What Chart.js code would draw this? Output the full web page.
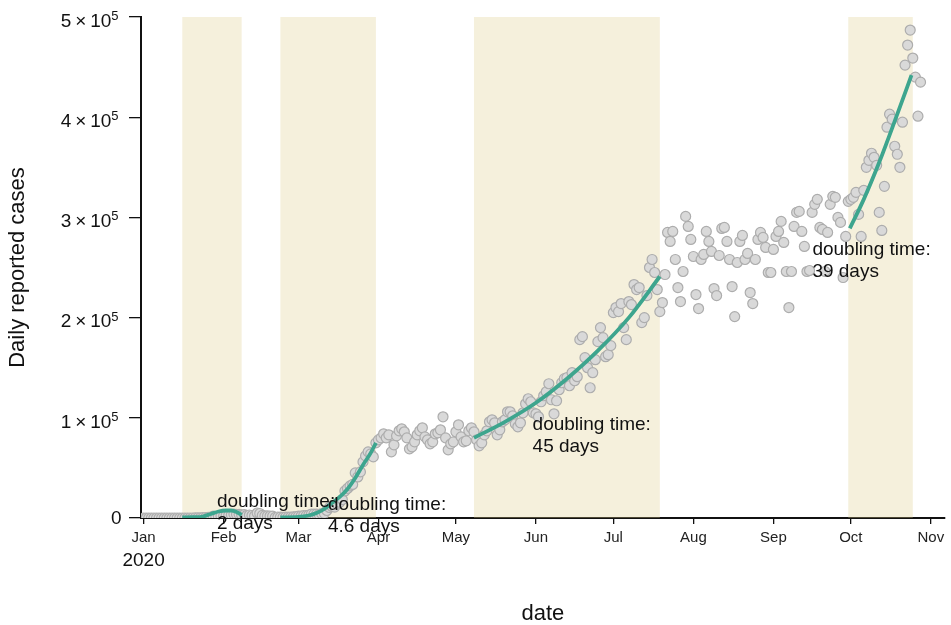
<!DOCTYPE html>
<html>
<head>
<meta charset="utf-8">
<script src="https://cdn.jsdelivr.net/npm/chart.js@4.4.1/dist/chart.umd.min.js"></script>
<style>
  html, body { margin: 0; padding: 0; background: #fff; }
  #wrap { width: 951px; height: 625px; }
</style>
</head>
<body>
<div id="wrap"><canvas id="casesChart" width="951" height="625"></canvas></div>
<script>
// daily reported cases in thousands, one value per day of 2020
const janCases = [0,0,0,0,0,0,0,0,0,0,0,0,0,0,0,0,0,0,0,0,0.15,0.15,0.1,0.3,0.5,0.7,0.8,1.8,1.5,1.7,2.0];
const febCases = [2.1,2.6,2.8,3.2,3.9,3.7,3.7,3.2,3.4,2.7,3.0,2.5,2.1,5.0,4.5,2.6,2.1,2.1,2.0,1.9,0.6,1.0,0.9,0.6,0.9,0.9,1.0,1.2,1.3];
const marCases = [1.9,2.0,2.4,2.3,2.8,3.9,3.9,3.9,3.6,4.3,4.7,7.5,10.5,11.5,10.9,13.9,15.6,18.4,27.0,29.5,32.0,33.5,45.0,41.0,46.0,56.0,62.0,66.0,64.0,61.0,75.0];
const aprCases = [78,80,84,80,83,66,73,82,87,89,86,80,69,71,76,83,87,90,81,78,74,76,84,85,88,101,80,68,74,76];
const mayCases = [86,93,81,76,77,87,90,86,78,72,75,83,87,96,98,95,83,88,96,98,106,106,102,94,91,95,105,114,119,116,105];
const junCases = [104,101,116,122,126,134,118,104,117,128,135,139,140,132,145,137,141,178,181,160,150,130,145,158,176,190,180,161,163,172];
const julCases = [205,210,206,214,190,178,216,213,233,228,230,195,200,222,250,258,245,228,206,215,243,285,276,286,258,230,216,246,301,291,278];
const augCases = [261,223,209,258,263,286,276,266,229,222,262,289,290,276,258,231,201,255,276,282,258,264,225,214,258,278,285,280,270,245,245];
const sepCases = [268,281,286,296,275,246,210,246,291,305,306,286,271,246,247,305,313,318,290,288,246,285,313,321,320,300,295,240,281,316];
const octCases = [318,320,325,303,281,327,350,357,364,360,352,305,287,331,390,403,398,371,363,350,395,452,472,487,459,440,401,435];

const monthNames = ['Jan','Feb','Mar','Apr','May','Jun','Jul','Aug','Sep','Oct','Nov'];
const monthStartDays = [0,31,60,91,121,152,182,213,244,274,305];
const yTickValues = [0,100000,200000,300000,400000,500000];

// shaded fitting windows (day of year)
const shadeStartDays = [15, 53, 128, 273];
const shadeEndDays = [38, 90, 200, 298];

// fitted curves (day of year, thousands)
const fit1Days = [15,19,23,26,29,32,34,36,38];
const fit1Cases = [0.5,0.8,1.5,4,6.5,7.5,7.5,6,3];
const fit2Days = [53,60,64,67,70,73,76,79,82,85,88,90];
const fit2Cases = [0.5,1,2.5,5,9,15,21,29,40,53,65,75];
const fit3Days = [128,140,152,164,176,188,200];
const fit3Cases = [80,96,115,139,167,200,241];
const fit4Days = [273.6,279,285,291,297.5];
const fit4Cases = [289,318,355,396,442];

// annotation anchors (left edge, first line)
const noteDays = [28.4, 71.4, 150.7, 259.1];
const noteCases = [16, 13, 93, 268];
const noteLines = [
    ['doubling time:', '2 days'],
    ['doubling time:', '4.6 days'],
    ['doubling time:', '45 days'],
    ['doubling time:', '39 days']
];

const FONT = '"Liberation Sans", Arial, sans-serif';
const monthlyCases = [janCases, febCases, marCases, aprCases, mayCases, junCases, julCases, augCases, sepCases, octCases];

const casePoints = [];
monthlyCases.forEach((arr, m) => {
    arr.forEach((v, i) => casePoints.push({ x: monthStartDays[m] + i, y: v * 1000 }));
});

function toPoints(days, vals) {
    return days.map((d, i) => ({ x: d, y: vals[i] * 1000 }));
}

const fitSets = [[fit1Days, fit1Cases], [fit2Days, fit2Cases], [fit3Days, fit3Cases], [fit4Days, fit4Cases]];
const fitDatasets = fitSets.map(f => ({
    data: toPoints(f[0], f[1]),
    showLine: true,
    borderColor: '#3da58e',
    borderWidth: 3.8,
    pointRadius: 0,
    cubicInterpolationMode: 'monotone',
    order: 0
}));

// shaded boxes, drawn over the axes but under the marks
const shadePlugin = {
    id: 'shade',
    beforeDatasetsDraw(chart) {
        const { ctx, scales: { x, y } } = chart;
        ctx.save();
        ctx.fillStyle = 'rgba(222, 205, 138, 0.3)';
        const top = y.getPixelForValue(500000);
        const bottom = y.getPixelForValue(0);
        shadeStartDays.forEach((s, i) => {
            const x0 = x.getPixelForValue(s);
            const x1 = x.getPixelForValue(shadeEndDays[i]);
            ctx.fillRect(x0, top, x1 - x0, bottom - top);
        });
        ctx.restore();
    }
};

// texts: y tick labels with exponents, year label, doubling time notes
const textPlugin = {
    id: 'texts',
    afterDatasetsDraw(chart) {
        const { ctx, scales: { x, y } } = chart;
        ctx.save();
        ctx.fillStyle = '#111';
        ctx.textBaseline = 'middle';

        yTickValues.forEach(v => {
            const py = y.getPixelForValue(v);
            if (v === 0) {
                ctx.font = '19px ' + FONT;
                ctx.textAlign = 'right';
                ctx.fillText('0', 121.5, py + 1);
                return;
            }
            const base = (v / 100000) + '\u2009\u00d7\u200910';
            ctx.font = '13px ' + FONT;
            const supW = ctx.measureText('5').width;
            ctx.font = '19px ' + FONT;
            const baseW = ctx.measureText(base).width;
            const x0 = 118.5 - supW - baseW;
            ctx.textAlign = 'left';
            ctx.fillText(base, x0, py + 4.5);
            ctx.font = '13px ' + FONT;
            ctx.fillText('5', x0 + baseW, py - 0.5);
        });

        ctx.font = '19px ' + FONT;
        ctx.textAlign = 'center';
        ctx.fillText('2020', x.getPixelForValue(0), 561);

        ctx.textAlign = 'left';
        noteLines.forEach((lines, i) => {
            const px = x.getPixelForValue(noteDays[i]);
            const py = y.getPixelForValue(noteCases[i] * 1000);
            lines.forEach((t, k) => ctx.fillText(t, px, py + k * 22));
        });
        ctx.restore();
    }
};

new Chart(document.getElementById('casesChart'), {
    type: 'scatter',
    data: {
        datasets: [
            ...fitDatasets,
            {
                data: casePoints,
                backgroundColor: '#d9d9d9',
                borderColor: '#adadad',
                borderWidth: 1.2,
                pointRadius: 5,
                order: 1
            }
        ]
    },
    options: {
        responsive: false,
        animation: false,
        layout: { padding: { top: 17, right: 0, left: 0, bottom: 0 } },
        plugins: { legend: { display: false }, tooltip: { enabled: false } },
        scales: {
            x: {
                type: 'linear',
                min: -1,
                max: 310.4,
                afterBuildTicks: scale => { scale.ticks = monthStartDays.map(v => ({ value: v })); },
                afterFit: scale => { scale.height = 107; },
                ticks: {
                    autoSkip: false,
                    maxRotation: 0,
                    padding: 5,
                    color: '#222',
                    font: { family: FONT, size: 15 },
                    callback: value => monthNames[monthStartDays.indexOf(value)]
                },
                grid: { drawOnChartArea: false, drawTicks: true, tickLength: 6, color: '#111', lineWidth: 1.3 },
                border: { display: true, color: '#111', width: 2 },
                title: {
                    display: true,
                    text: 'date',
                    color: '#111',
                    font: { family: FONT, size: 22, lineHeight: 1 },
                    padding: { top: 4, bottom: 0 }
                }
            },
            y: {
                min: 0,
                max: 500000,
                afterBuildTicks: scale => { scale.ticks = yTickValues.map(v => ({ value: v })); },
                afterFit: scale => { scale.width = 141; },
                ticks: { color: 'rgba(0,0,0,0)', font: { size: 10 } },
                grid: { drawOnChartArea: false, drawTicks: true, tickLength: 12, color: '#111', lineWidth: 1.3 },
                border: { display: true, color: '#111', width: 2 },
                title: {
                    display: true,
                    text: 'Daily reported cases',
                    color: '#111',
                    font: { family: FONT, size: 22, lineHeight: 1 },
                    padding: { top: 7, bottom: 0 }
                }
            }
        }
    },
    plugins: [shadePlugin, textPlugin]
});
</script>
</body>
</html>
